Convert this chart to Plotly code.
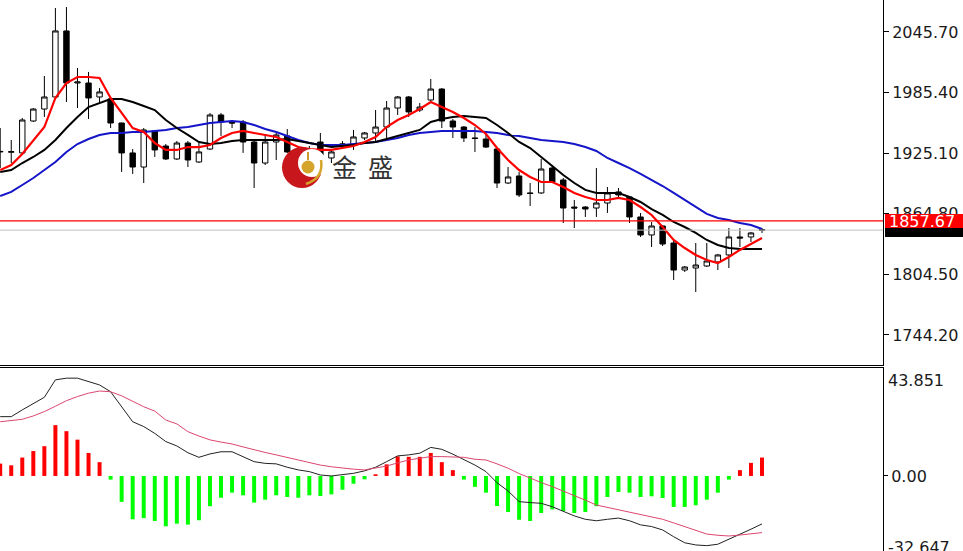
import plotly.graph_objects as go

# ---------------- data ----------------
idx = list(range(70))

opens = [1926.3, 1926.0, 1925.3, 1957.1, 1969.0, 1981.0, 2046.7, 1994.9, 1994.9, 1981.0,
         1979.0, 1955.1, 1925.3, 1911.3, 1947.2, 1932.2, 1919.3, 1935.2, 1916.3, 1929.2,
         1963.1, 1956.1, 1956.1, 1936.2, 1915.3, 1936.2, 1942.2, 1928.2, 1922.3, 1936.2,
         1920.3, 1933.2, 1933.2, 1940.2, 1945.2, 1951.1, 1970.0, 1981.0, 1968.0, 1978.0,
         1988.9, 1957.1, 1951.1, 1940.2, 1939.2, 1929.2, 1895.4, 1902.4, 1885.5, 1885.5,
         1910.3, 1898.4, 1871.5, 1871.5, 1870.5, 1875.5, 1886.5, 1881.5, 1861.6, 1843.7,
         1852.6, 1835.7, 1808.8, 1810.8, 1812.8, 1816.8, 1823.8, 1841.7, 1841.7, 1848.9]
closes = [1926.8, 1926.6, 1958.1, 1969.0, 1981.0, 2046.7, 1994.9, 1995.9, 1980.0, 1986.0,
          1955.1, 1925.3, 1911.3, 1948.2, 1928.3, 1919.3, 1935.2, 1918.3, 1926.3, 1963.1,
          1956.1, 1955.1, 1936.2, 1915.3, 1936.2, 1943.2, 1926.3, 1926.3, 1928.3, 1921.3,
          1926.3, 1934.2, 1941.2, 1945.2, 1951.1, 1970.0, 1981.0, 1966.1, 1971.0, 1988.9,
          1957.1, 1951.1, 1940.2, 1939.7, 1931.2, 1895.4, 1901.4, 1883.5, 1885.0, 1909.3,
          1896.4, 1870.5, 1870.5, 1869.5, 1875.5, 1885.5, 1883.5, 1861.6, 1843.7, 1852.6,
          1834.7, 1808.8, 1811.8, 1813.8, 1817.8, 1823.8, 1841.7, 1840.7, 1845.7, 1848.49]
highs = [1950.1, 1938.2, 1960.1, 1970.0, 2001.9, 2069.5, 2070.5, 2009.8, 2005.9, 1989.9,
         1981.0, 1955.5, 1929.2, 1950.1, 1948.0, 1934.2, 1937.2, 1937.2, 1935.2, 1965.1,
         1965.1, 1958.1, 1958.1, 1938.2, 1943.2, 1945.2, 1949.1, 1932.2, 1932.2, 1945.2,
         1928.2, 1937.2, 1948.2, 1946.2, 1968.0, 1977.0, 1982.0, 1982.0, 1975.0, 1998.9,
         1989.9, 1959.1, 1952.1, 1951.1, 1943.2, 1930.2, 1911.3, 1906.4, 1895.4, 1919.3,
         1913.3, 1900.4, 1878.5, 1872.5, 1910.3, 1891.4, 1890.4, 1882.5, 1865.6, 1856.6,
         1853.6, 1838.7, 1812.8, 1835.7, 1835.7, 1824.8, 1850.6, 1850.6, 1846.7, 1850.6]
lows = [1910.3, 1915.3, 1923.3, 1956.1, 1961.1, 1980.0, 1976.0, 1970.0, 1959.1, 1976.0,
        1950.1, 1906.4, 1904.4, 1895.4, 1921.3, 1918.3, 1918.3, 1911.3, 1915.3, 1928.3,
        1942.2, 1950.1, 1925.3, 1890.4, 1913.3, 1918.3, 1925.3, 1920.3, 1918.3, 1920.3,
        1915.3, 1929.2, 1928.3, 1938.2, 1936.2, 1940.2, 1963.1, 1961.1, 1966.1, 1977.0,
        1950.1, 1940.2, 1936.2, 1926.3, 1930.2, 1890.4, 1894.4, 1881.5, 1872.5, 1884.5,
        1895.4, 1855.6, 1850.6, 1861.6, 1861.6, 1865.6, 1880.5, 1855.6, 1841.7, 1831.7,
        1832.7, 1798.9, 1806.9, 1786.9, 1811.8, 1808.8, 1810.8, 1831.7, 1836.7, 1845.7]

ma_red = [1908.3, 1913.3, 1924.3, 1938.2, 1951.1, 1980.0, 1994.9, 2000.9, 2000.9, 1999.9,
          1980.0, 1965.1, 1950.1, 1946.2, 1935.2, 1928.3, 1928.3, 1931.2, 1931.2, 1933.2,
          1940.2, 1945.2, 1947.2, 1945.2, 1943.2, 1941.2, 1936.2, 1931.2, 1929.2, 1928.3,
          1928.3, 1930.2, 1932.2, 1936.2, 1941.2, 1951.1, 1958.1, 1963.1, 1969.0, 1976.0,
          1971.0, 1966.1, 1960.1, 1953.1, 1944.2, 1930.2, 1918.3, 1908.3, 1901.4, 1896.4,
          1896.4, 1891.4, 1885.5, 1881.5, 1878.5, 1878.5, 1880.5, 1878.5, 1871.5, 1863.6,
          1851.6, 1838.7, 1830.7, 1823.8, 1818.8, 1815.8, 1821.8, 1828.8, 1834.7, 1840.7]
ma_black = [1906.4, 1908.3, 1915.3, 1921.3, 1928.3, 1938.2, 1950.1, 1961.1, 1971.0, 1975.0,
            1979.0, 1979.0, 1976.0, 1972.0, 1968.0, 1958.1, 1950.1, 1943.2, 1936.2, 1934.2,
            1935.2, 1937.2, 1938.2, 1938.2, 1938.2, 1938.2, 1939.2, 1937.2, 1935.2, 1933.2,
            1931.2, 1932.2, 1933.2, 1935.2, 1936.2, 1939.2, 1942.2, 1945.2, 1948.2, 1956.1,
            1959.1, 1961.1, 1962.1, 1961.1, 1960.1, 1953.1, 1945.2, 1936.2, 1930.2, 1921.3,
            1912.3, 1903.4, 1895.4, 1888.5, 1885.5, 1885.5, 1885.5, 1881.5, 1876.5, 1869.5,
            1863.6, 1856.6, 1851.6, 1845.7, 1838.7, 1833.7, 1830.7, 1829.7, 1829.7, 1829.7]
ma_blue = [1882.5, 1886.5, 1893.4, 1900.4, 1908.3, 1916.3, 1926.3, 1934.2, 1939.2, 1943.2,
           1945.2, 1945.2, 1946.2, 1946.2, 1947.2, 1948.2, 1950.1, 1951.1, 1953.1, 1955.1,
           1956.1, 1957.1, 1956.1, 1953.1, 1949.1, 1946.2, 1942.2, 1938.2, 1935.2, 1933.2,
           1933.2, 1933.2, 1934.2, 1935.2, 1936.2, 1938.2, 1940.2, 1943.2, 1945.2, 1946.2,
           1947.2, 1947.2, 1947.2, 1947.2, 1946.2, 1945.2, 1943.2, 1942.2, 1940.2, 1938.2,
           1937.2, 1936.2, 1934.2, 1931.2, 1927.3, 1920.3, 1915.3, 1910.3, 1904.4, 1898.4,
           1892.4, 1885.5, 1878.5, 1871.5, 1864.6, 1860.6, 1858.6, 1855.6, 1853.6, 1849.6]

macd_hist = [5.1, 4.4, 7.6, 10.3, 12.3, 21.0, 18.5, 15.0, 9.5, 5.7,
             -1.5, -10.7, -17.9, -17.4, -18.6, -20.8, -19.7, -20.1, -18.3, -12.5,
             -9.0, -6.9, -8.0, -11.0, -9.8, -8.0, -8.7, -9.0, -8.0, -8.3,
             -7.6, -5.7, -3.2, -1.4, 0.7, 4.8, 8.1, 7.9, 7.9, 9.5,
             5.7, 2.4, -1.5, -4.5, -6.9, -12.4, -14.9, -18.1, -18.6, -15.3,
             -13.8, -14.5, -15.3, -14.9, -12.5, -8.7, -6.6, -6.9, -8.7, -8.4,
             -9.1, -12.8, -12.8, -12.1, -9.8, -6.9, -1.5, 2.4, 5.4, 7.6]
macd_line = [24.5, 24.5, 27.3, 30.0, 32.5, 39.7, 40.4, 40.4, 39.0, 37.6,
             34.8, 28.6, 22.4, 20.4, 17.6, 14.2, 12.4, 9.6, 7.7, 9.1,
             10.0, 10.0, 8.0, 5.9, 5.2, 5.0, 3.6, 2.5, 1.8, 0.4,
             0.0, 0.4, 1.1, 2.1, 3.6, 5.9, 8.3, 8.7, 9.4, 11.8,
             11.0, 9.0, 6.9, 4.5, 1.8, -2.8, -6.2, -10.6, -11.0, -11.3,
             -12.7, -14.7, -16.5, -17.9, -18.5, -17.9, -17.4, -18.5, -20.2, -20.9,
             -22.3, -25.1, -27.6, -28.5, -28.8, -28.2, -26.2, -24.0, -22.0, -19.8]
signal_line = [22.4, 22.8, 23.4, 24.8, 26.6, 28.8, 31.1, 32.8, 34.2, 35.1,
               34.8, 33.1, 30.8, 28.6, 26.8, 23.1, 21.5, 18.3, 16.5, 14.9,
               14.0, 13.2, 12.0, 10.7, 9.7, 8.7, 7.6, 6.6, 5.5, 4.5,
               3.8, 3.2, 2.8, 2.5, 3.2, 4.1, 5.4, 6.6, 7.3, 8.0,
               8.0, 8.0, 7.7, 6.9, 6.6, 5.0, 3.2, 1.0, -1.0, -2.7,
               -4.4, -6.2, -7.9, -10.0, -12.0, -13.0, -14.0, -15.0, -15.8, -16.9,
               -17.9, -19.4, -20.9, -22.4, -24.0, -24.5, -24.8, -24.4, -24.0, -23.4]

price_ticks = [2045.70, 1985.40, 1925.10, 1864.80, 1804.50, 1744.20]
price_tick_text = ["2045.70", "1985.40", "1925.10", "1864.80", "1804.50", "1744.20"]
level_price = 1857.67
last_price = 1848.49
macd_max_label = "43.851"
macd_min_label = "-32.647"

# ---------------- figure ----------------
FONT = "DejaVu Sans"
W, H = 963, 551
PLOT_W = 883

fig = go.Figure()

fig.add_trace(go.Candlestick(
    x=idx, open=opens, high=highs, low=lows, close=closes,
    increasing=dict(line=dict(color="black", width=1), fillcolor="white"),
    decreasing=dict(line=dict(color="black", width=1), fillcolor="black"),
    whiskerwidth=0, hoverinfo="skip", showlegend=False, xaxis="x", yaxis="y"))

fig.add_trace(go.Scatter(x=idx, y=ma_blue, mode="lines",
                         line=dict(color="#1414C8", width=2), xaxis="x", yaxis="y"))
fig.add_trace(go.Scatter(x=idx, y=ma_black, mode="lines",
                         line=dict(color="black", width=2), xaxis="x", yaxis="y"))
fig.add_trace(go.Scatter(x=idx, y=ma_red, mode="lines",
                         line=dict(color="#FF0000", width=2.2), xaxis="x", yaxis="y"))

bar_colors = ["#FF0000" if v > 0 else "#00FF00" for v in macd_hist]
fig.add_trace(go.Bar(x=idx, y=macd_hist, marker=dict(color=bar_colors, line=dict(width=0)),
                     width=0.36, xaxis="x2", yaxis="y2"))
fig.add_trace(go.Scatter(x=idx, y=macd_line, mode="lines",
                         line=dict(color="#222222", width=1), xaxis="x2", yaxis="y2"))
fig.add_trace(go.Scatter(x=idx, y=signal_line, mode="lines",
                         line=dict(color="#DC4670", width=1), xaxis="x2", yaxis="y2"))

xr = [-0.018, 79.96]
main_range = [1714.3, 2077.5]

def px_x(p):
    return p / PLOT_W

def px_y(p):
    return (H - p) / H

shapes = [
    dict(type="line", xref="paper", x0=0, x1=1, yref="y", y0=last_price, y1=last_price,
         line=dict(color="#C0C0C0", width=1), layer="above"),
    dict(type="line", xref="paper", x0=0, x1=1, yref="y", y0=level_price, y1=level_price,
         line=dict(color="#FF0000", width=1.2), layer="above"),
    # price label boxes
    dict(type="rect", xref="paper", yref="paper", x0=px_x(885), x1=px_x(975),
         y0=px_y(237), y1=px_y(221), fillcolor="black", line=dict(width=0), layer="below"),
    dict(type="rect", xref="paper", yref="paper", x0=px_x(885), x1=px_x(975),
         y0=px_y(228), y1=px_y(214), fillcolor="#FF0000", line=dict(width=0), layer="above"),
    # logo
    dict(type="circle", xref="paper", yref="paper", x0=px_x(282), x1=px_x(322),
         y0=px_y(188), y1=px_y(147), fillcolor="#C8161D", line=dict(width=0), layer="above"),
    dict(type="circle", xref="paper", yref="paper", x0=px_x(298), x1=px_x(326),
         y0=px_y(177), y1=px_y(149), fillcolor="white", line=dict(width=0), layer="above"),
    dict(type="circle", xref="paper", yref="paper", x0=px_x(301.5), x1=px_x(314.5),
         y0=px_y(173.5), y1=px_y(160.5), fillcolor="#D4A52A", line=dict(width=0), layer="above"),
    dict(type="line", xref="paper", yref="paper", x0=px_x(308), x1=px_x(308),
         y0=px_y(160), y1=px_y(152), line=dict(color="#C89A2A", width=2), layer="above"),
    dict(type="path", xref="paper", yref="paper",
         path=f"M {px_x(321)},{px_y(160)} Q {px_x(324)},{px_y(178)} {px_x(306)},{px_y(184)}",
         line=dict(color="#D4A52A", width=2.5), layer="above"),
]

annotations = [
    dict(text=f"{level_price:.2f}", xref="paper", yref="paper", x=px_x(887), y=px_y(221),
         xanchor="left", yanchor="middle", showarrow=False,
         font=dict(family=FONT, size=16, color="white")),
    dict(text=macd_max_label, xref="paper", yref="paper", x=px_x(886), y=px_y(369),
         xanchor="left", yanchor="top", showarrow=False,
         font=dict(family=FONT, size=16, color="#1a1a1a")),
    dict(text=macd_min_label, xref="paper", yref="paper", x=px_x(886), y=px_y(536),
         xanchor="left", yanchor="top", showarrow=False,
         font=dict(family=FONT, size=16, color="#1a1a1a")),
    dict(text="金", xref="paper", yref="paper", x=px_x(344), y=px_y(166),
         xanchor="center", yanchor="middle", showarrow=False,
         font=dict(family="Noto Sans CJK SC", size=25, color="#333333")),
    dict(text="盛", xref="paper", yref="paper", x=px_x(380), y=px_y(166),
         xanchor="center", yanchor="middle", showarrow=False,
         font=dict(family="Noto Sans CJK SC", size=25, color="#333333")),
]

tickfont = dict(family=FONT, size=16, color="#1a1a1a")
fig.update_layout(
    width=W, height=H,
    margin=dict(l=0, r=W - PLOT_W, t=0, b=0),
    paper_bgcolor="white", plot_bgcolor="white",
    showlegend=False,
    xaxis=dict(domain=[0, 1], range=xr, anchor="y", showticklabels=False, ticks="",
               showgrid=False, zeroline=False, showline=True, linecolor="black", linewidth=1,
               rangeslider=dict(visible=False)),
    yaxis=dict(domain=[px_y(365), 1], range=main_range, side="right", anchor="x",
               tickvals=price_ticks, ticktext=price_tick_text, ticks="outside", ticklen=5,
               tickcolor="black", showgrid=False, zeroline=False, showline=True,
               linecolor="black", linewidth=1, tickfont=tickfont),
    yaxis3=dict(overlaying="y", range=main_range, side="right", anchor="x",
                tickvals=[last_price], ticktext=[f"{last_price:.2f}"], ticks="outside",
                ticklen=5, tickcolor="rgba(0,0,0,0)", showgrid=False, zeroline=False,
                showline=False, tickfont=dict(family=FONT, size=16, color="white")),
    xaxis2=dict(domain=[0, 1], range=xr, anchor="y2", side="top", showticklabels=False,
                ticks="", showgrid=False, zeroline=False, showline=True, linecolor="black",
                linewidth=1),
    yaxis2=dict(domain=[0, px_y(368)], range=[-31.0, 44.6], side="right", anchor="x2",
                tickvals=[0], ticktext=["0.00"], ticks="outside", ticklen=4, tickcolor="black",
                showgrid=False, zeroline=False, showline=True, linecolor="black", linewidth=1,
                tickfont=tickfont),
    shapes=shapes,
    annotations=annotations,
)

fig.write_html("out.html", config={"displayModeBar": False, "staticPlot": True},
               post_script="document.body.style.margin='0';")
